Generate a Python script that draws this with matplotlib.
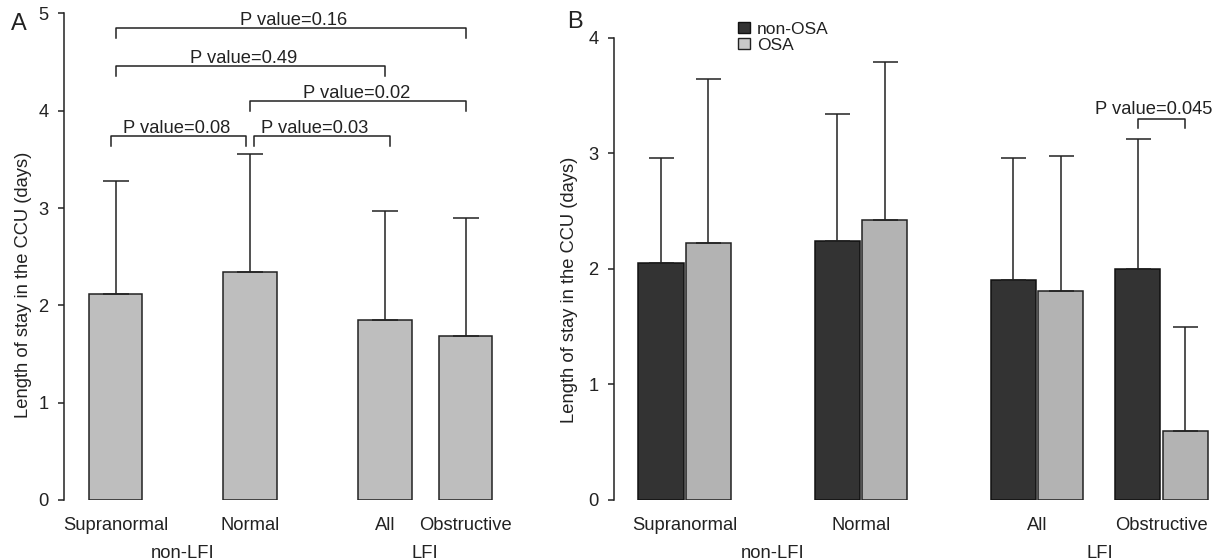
import matplotlib.pyplot as plt
import matplotlib.transforms as mtrans
from matplotlib.patches import Patch

plt.rcParams['font.family'] = ['Liberation Sans', 'DejaVu Sans']

# data
groups = ['Supranormal', 'Normal', 'All', 'Obstructive']
lfi_groups = ['non-LFI', 'LFI']

# panel A: all patients
means_a = [2.12, 2.34, 1.85, 1.69]
sd_a = [1.16, 1.22, 1.12, 1.21]
pvals_a = ['0.16', '0.49', '0.02', '0.08', '0.03']
pairs_a = [(0, 3), (0, 2), (1, 3), (0, 1), (1, 2)]
bracket_y_a = [4.85, 4.46, 4.10, 3.74, 3.74]

# panel B: split by OSA
means_non = [2.05, 2.24, 1.90, 2.00]
sd_non = [0.91, 1.10, 1.06, 1.12]
means_osa = [2.22, 2.42, 1.81, 0.60]
sd_osa = [1.42, 1.37, 1.17, 0.90]
pval_b = '0.045'
pair_b = 3

# layout
W, H = 1221, 560
FS = 13.2
INK = '#222222'
pos_a = [0, 2.5, 5, 6.5]
pos_b = [0, 3.71, 7.42, 10.04]
nudge_a = [(0, 0), (0, 0), (0, 0), (-0.08, -0.07), (0.08, 0.09)]
text_dx_a = [3, -7, -1, -2.5, -7.5]  # pixels


def box(left, top, right, bottom):
    return [left / W, 1 - bottom / H, (right - left) / W, (bottom - top) / H]


def style_axis(ax, ymax):
    for s in ['top', 'right', 'bottom']:
        ax.spines[s].set_visible(False)
    ax.spines['left'].set_bounds(0, ymax)
    ax.spines['left'].set_linewidth(1.1)
    ax.spines['left'].set_color(INK)
    ax.set_ylim(0, ymax)
    ax.set_yticks(range(ymax + 1))
    ax.tick_params(axis='y', length=4.3, width=1.1, pad=7, labelsize=FS,
                   color=INK, labelcolor=INK)
    ax.set_xticks([])


def under(ax, dy):
    return mtrans.offset_copy(ax.get_xaxis_transform(), fig=fig, x=0, y=-dy, units='dots')


fig = plt.figure(figsize=(W / 100, H / 100), dpi=100)

# ---------- A ----------
ax = fig.add_axes(box(64, 500 - 5 * 97.3, 520, 500))
ax.set_xlim(-(115.5 - 64) / 53.85, (520 - 115.5) / 53.85)
style_axis(ax, 5)
ax.bar(pos_a, means_a, width=1.0, color='#bebebe', edgecolor=INK, linewidth=1.1, zorder=2)
ax.errorbar(pos_a, means_a, yerr=[[0] * 4, sd_a], fmt='none', ecolor=INK,
            elinewidth=1.1, capsize=9.4, capthick=1.1, zorder=3)

for (i, j), (dl, dr), y, p, dx in zip(pairs_a, nudge_a, bracket_y_a, pvals_a, text_dx_a):
    x1, x2 = pos_a[i] + dl, pos_a[j] + dr
    ax.plot([x1, x1, x2, x2], [y - 0.1, y, y, y - 0.1], color=INK, lw=1.1, clip_on=False)
    tr = mtrans.offset_copy(ax.transData, fig=fig, x=dx, y=3, units='dots')
    ax.text((x1 + x2) / 2, y, 'P value=' + p, transform=tr, ha='center', va='baseline',
            fontsize=FS, color=INK)

for x, g in zip(pos_a, groups):
    ax.text(x, 0, g, transform=under(ax, 26), ha='center', va='center', fontsize=FS, color=INK)
ax.text((pos_a[0] + pos_a[1]) / 2, 0, lfi_groups[0], transform=under(ax, 53),
        ha='center', va='center', fontsize=FS, color=INK)
ax.text((pos_a[2] + pos_a[3]) / 2, 0, lfi_groups[1], transform=under(ax, 53),
        ha='center', va='center', fontsize=FS, color=INK)

# ---------- B ----------
bx = fig.add_axes(box(614, 500 - 4 * 115.6, 1221, 500))
bx.set_xlim(-(684.7 - 614) / 47.5, (1221 - 684.7) / 47.5)
style_axis(bx, 4)
xd = [g - 0.5 for g in pos_b]
xl = [g + 0.5 for g in pos_b]
bx.bar(xd, means_non, width=0.95, color='#333333', edgecolor='#111111', linewidth=1.1,
       zorder=2, label='non-OSA')
bx.bar(xl, means_osa, width=0.95, color='#b3b3b3', edgecolor=INK, linewidth=1.1,
       zorder=2, label='OSA')
bx.errorbar(xd, means_non, yerr=[[0] * 4, sd_non], fmt='none', ecolor=INK,
            elinewidth=1.1, capsize=9, capthick=1.1, zorder=3)
bx.errorbar(xl, means_osa, yerr=[[0] * 4, sd_osa], fmt='none', ecolor=INK,
            elinewidth=1.1, capsize=9, capthick=1.1, zorder=3)

x1, x2, y = xd[pair_b], xl[pair_b], 3.30
bx.plot([x1, x1, x2, x2], [y - 0.08, y, y, y - 0.08], color=INK, lw=1.1, clip_on=False)
tr = mtrans.offset_copy(bx.transData, fig=fig, x=-8, y=5, units='dots')
bx.text((x1 + x2) / 2, y, 'P value=' + pval_b, transform=tr, ha='center', va='baseline',
        fontsize=FS, color=INK)

for x, g in zip(pos_b, groups):
    bx.text(x, 0, g, transform=under(bx, 26), ha='center', va='center', fontsize=FS, color=INK)
bx.text((pos_b[0] + pos_b[1]) / 2, 0, lfi_groups[0], transform=under(bx, 53),
        ha='center', va='center', fontsize=FS, color=INK)
bx.text((pos_b[2] + pos_b[3]) / 2, 0, lfi_groups[1], transform=under(bx, 53),
        ha='center', va='center', fontsize=FS, color=INK)

handles = [Patch(facecolor='#333333', edgecolor='#111111', linewidth=1.0),
           Patch(facecolor='#c8c8c8', edgecolor=INK, linewidth=1.0)]
bx.legend(handles, ['non-OSA', 'OSA'], loc='upper left',
          bbox_to_anchor=(738 / W, 1 - 22 / H), bbox_transform=fig.transFigure,
          frameon=False, handlelength=0.7, handleheight=0.6, handletextpad=0.4,
          labelspacing=0.05, borderpad=0, borderaxespad=0, fontsize=12.5,
          labelcolor=INK)

# axis titles and panel letters
ylab = 'Length of stay in the CCU (days)'
fig.text(24 / W, 1 - 285 / H, ylab, rotation=90, ha='center', va='center', fontsize=FS, color=INK)
fig.text(569 / W, 1 - 290 / H, ylab, rotation=90, ha='center', va='center', fontsize=FS, color=INK)
fig.text(19 / W, 1 - 24 / H, 'A', ha='center', va='center', fontsize=17, color=INK)
fig.text(575 / W, 1 - 22 / H, 'B', ha='center', va='center', fontsize=17, color=INK)

fig.savefig('out.png', dpi=100)
